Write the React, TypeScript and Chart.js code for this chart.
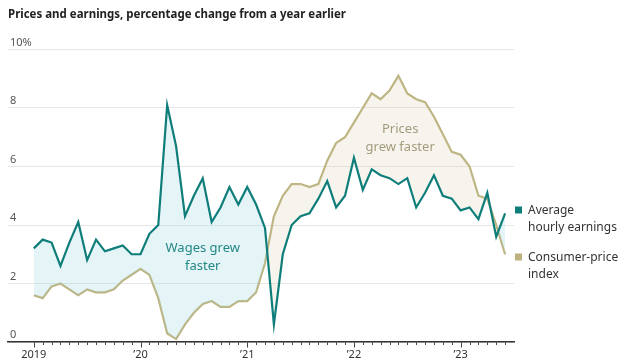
import React, { useEffect, useRef } from "react";
import { Chart, registerables } from "chart.js";

Chart.register(...registerables);

// ---- data ----
const YEARS = ["2019", "2020", "2021", "2022", "2023"];
const MONTH_NAMES = ["Jan", "Feb", "Mar", "Apr", "May", "Jun", "Jul", "Aug", "Sep", "Oct", "Nov", "Dec"];
const MONTHS: string[] = [];
YEARS.forEach((yr) => MONTH_NAMES.forEach((m) => MONTHS.push(`${m} ${yr}`)));
MONTHS.splice(54); // Jan 2019 – Jun 2023

const EARNINGS = [
  3.2, 3.5, 3.4, 2.6, 3.4, 4.1, 2.8, 3.5, 3.1, 3.2, 3.3, 3.0,
  3.0, 3.7, 4.0, 8.1, 6.7, 4.3, 5.0, 5.6, 4.1, 4.6, 5.3, 4.7,
  5.3, 4.7, 3.9, 0.6, 3.0, 4.0, 4.3, 4.4, 4.9, 5.5, 4.6, 5.0,
  6.3, 5.2, 5.9, 5.7, 5.6, 5.4, 5.6, 4.6, 5.1, 5.7, 5.0, 4.9,
  4.5, 4.6, 4.2, 5.1, 3.6, 4.4,
];
const CPI = [
  1.6, 1.5, 1.9, 2.0, 1.8, 1.6, 1.8, 1.7, 1.7, 1.8, 2.1, 2.3,
  2.5, 2.3, 1.5, 0.3, 0.1, 0.6, 1.0, 1.3, 1.4, 1.2, 1.2, 1.4,
  1.4, 1.7, 2.7, 4.3, 5.0, 5.4, 5.4, 5.3, 5.4, 6.2, 6.8, 7.0,
  7.5, 8.0, 8.5, 8.3, 8.6, 9.1, 8.5, 8.3, 8.2, 7.7, 7.1, 6.5,
  6.4, 6.0, 5.0, 4.9, 4.0, 3.0,
];
const X_TICK_VALUES = [0, 12, 24, 36, 48];
const X_TICK_LABELS = ["2019", "\u201920", "\u201921", "\u201922", "\u201923"];
const Y_TICK_VALUES = [0, 2, 4, 6, 8, 10];
const Y_TICK_LABELS = ["0", "2", "4", "6", "8", "10%"];
const TITLE = "Prices and earnings, percentage change from a year earlier";
const LEGEND_EARNINGS = ["Average", "hourly earnings"];
const LEGEND_CPI = ["Consumer-price", "index"];
const NOTE_WAGES = ["Wages grew", "faster"];
const NOTE_PRICES = ["Prices", "grew faster"];

// ---- styles ----
const FONT = "'Noto Sans', 'Open Sans', sans-serif";
const TEAL = "#0f7e7a";
const GOLD = "#bdb37f";
const TEAL_FILL = "rgba(160, 215, 222, 0.28)";
const GOLD_FILL = "rgba(215, 205, 170, 0.22)";

const decorPlugin = {
  id: "decor",
  afterDraw(chart: any) {
    const { ctx, scales } = chart;
    const x = scales.x;
    const y = scales.y;
    const y0 = y.getPixelForValue(0);
    ctx.save();

    // month ticks below the axis
    ctx.strokeStyle = "#444";
    ctx.lineWidth = 1;
    MONTHS.forEach((_, i) => {
      const px = Math.round(x.getPixelForValue(i)) + 0.5;
      const len = i % 12 === 0 ? 5 : 2.5;
      ctx.beginPath();
      ctx.moveTo(px, y0 + 0.5);
      ctx.lineTo(px, y0 + 0.5 + len);
      ctx.stroke();
    });

    // title (narrow bold)
    ctx.fillStyle = "#222";
    ctx.font = `bold 12.5px ${FONT}`;
    ctx.textBaseline = "middle";
    ctx.textAlign = "left";
    const tw = ctx.measureText(TITLE).width;
    const target = 338;
    ctx.save();
    ctx.translate(8, 14);
    if (tw > target) ctx.scale(target / tw, 1);
    ctx.fillText(TITLE, 0, 0);
    ctx.restore();

    // annotations
    ctx.font = `13px ${FONT}`;
    ctx.textAlign = "center";
    ctx.fillStyle = "#238886";
    const wx = x.getPixelForValue(19);
    const wy = y.getPixelForValue(3.2);
    ctx.fillText(NOTE_WAGES[0], wx, wy);
    ctx.fillText(NOTE_WAGES[1], wx, wy + 17.5);

    ctx.fillStyle = "#a39c7e";
    const px2 = x.getPixelForValue(41.2);
    const py2 = y.getPixelForValue(7.28);
    ctx.fillText(NOTE_PRICES[0], px2, py2);
    ctx.fillText(NOTE_PRICES[1], px2, py2 + 18);

    // legend
    ctx.textAlign = "left";
    ctx.font = `12px ${FONT}`;
    const lx = x.right + 1;
    const drawItem = (color: string, lines: string[], top: number) => {
      ctx.fillStyle = color;
      ctx.fillRect(lx, top, 7, 7);
      ctx.fillStyle = "#333";
      lines.forEach((t, k) => ctx.fillText(t, lx + 13, top + 4.5 + k * 16.5));
    };
    drawItem(TEAL, LEGEND_EARNINGS, 206.5);
    drawItem(GOLD, LEGEND_CPI, 253.5);

    ctx.restore();
  },
};

export default function App() {
  const ref = useRef<HTMLCanvasElement | null>(null);

  useEffect(() => {
    if (!ref.current) return;
    const chart = new Chart(ref.current, {
      type: "line",
      data: {
        datasets: [
          {
            label: "Average hourly earnings",
            data: EARNINGS.map((v, i) => ({ x: i, y: v })),
            borderColor: TEAL,
            borderWidth: 2.2,
            pointRadius: 0,
            tension: 0,
            fill: { target: 1, above: TEAL_FILL, below: GOLD_FILL },
          },
          {
            label: "Consumer-price index",
            data: CPI.map((v, i) => ({ x: i, y: v })),
            borderColor: GOLD,
            borderWidth: 2.2,
            pointRadius: 0,
            tension: 0,
            fill: false,
          },
        ],
      },
      options: {
        animation: false,
        responsive: false,
        layout: { padding: { left: 8, right: 110, top: 49.5, bottom: 0 } },
        plugins: { legend: { display: false }, tooltip: { enabled: false } },
        scales: {
          x: {
            type: "linear",
            min: -2.9,
            max: 54,
            afterFit: (s: any) => {
              s.height = 21;
            },
            afterBuildTicks: (s: any) => {
              s.ticks = X_TICK_VALUES.map((v) => ({ value: v }));
            },
            grid: { display: false, drawTicks: false },
            border: { display: true, color: "#333", width: 1.5 },
            ticks: {
              padding: 6,
              maxRotation: 0,
              autoSkip: false,
              color: "#333",
              font: { family: FONT, size: 11 },
              callback: (v: any) => {
                const k = X_TICK_VALUES.indexOf(Number(v));
                return k >= 0 ? X_TICK_LABELS[k] : "";
              },
            },
          },
          y: {
            min: 0,
            max: 10,
            afterFit: (s: any) => {
              s.width = 0;
            },
            afterBuildTicks: (s: any) => {
              s.ticks = Y_TICK_VALUES.map((v) => ({ value: v }));
            },
            grid: { color: "#e6e6e6", lineWidth: 1, drawTicks: false },
            border: { display: false },
            ticks: {
              mirror: true,
              padding: 2,
              labelOffset: -7,
              color: "#555",
              font: { family: FONT, size: 11 },
              callback: (v: any) => {
                const k = Y_TICK_VALUES.indexOf(Number(v));
                return k >= 0 ? Y_TICK_LABELS[k] : "";
              },
            },
          },
        },
      },
      plugins: [decorPlugin],
    });
    return () => chart.destroy();
  }, []);

  return (
    <div style={{ position: "absolute", left: 0, top: 0, width: 624, height: 363, background: "#fff" }}>
      <canvas ref={ref} width={624} height={363} style={{ display: "block", width: 624, height: 363 }} />
    </div>
  );
}
